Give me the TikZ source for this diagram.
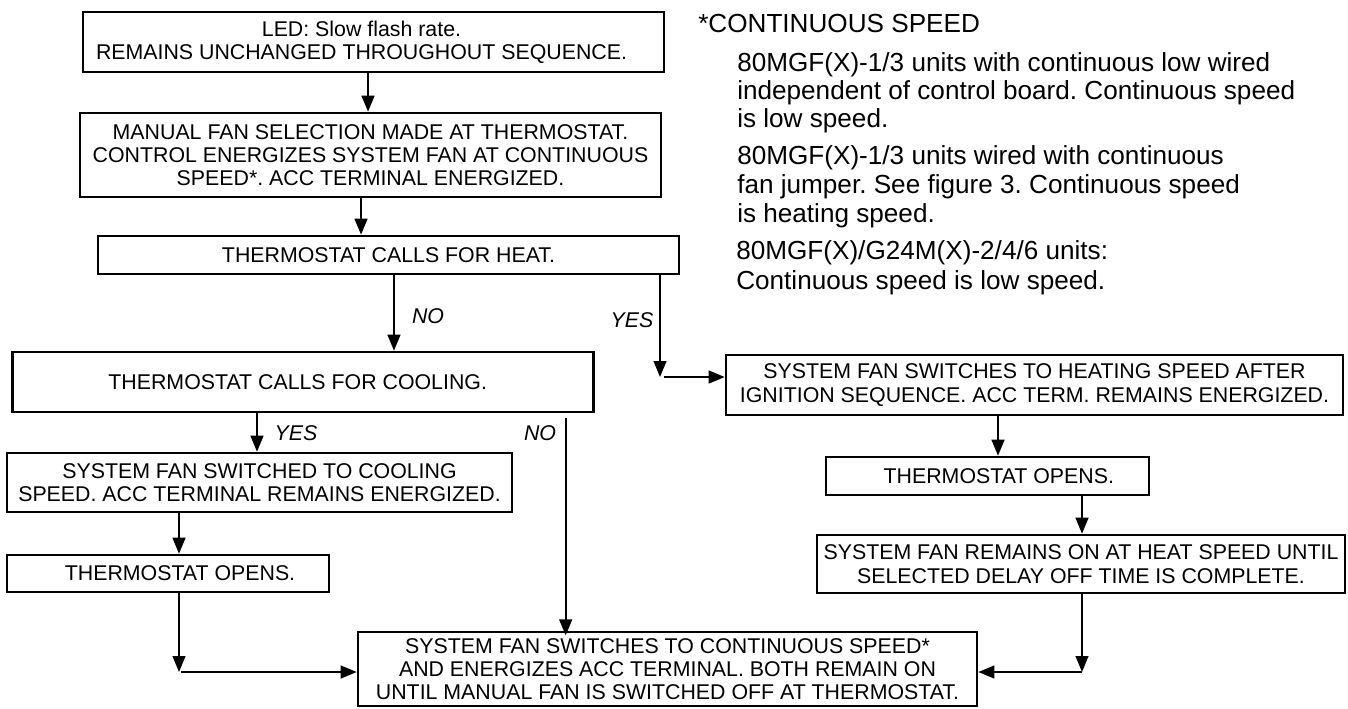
\documentclass[tikz,border=0pt]{standalone}
\usepackage{fontspec}
\setmainfont{Liberation Sans}
\usetikzlibrary{arrows.meta}
\frenchspacing
\begin{document}
\begin{tikzpicture}[x=0.75pt,y=-0.75pt,
 box/.style={draw,line width=1.9pt,inner sep=0pt,align=center,font=\fontsize{16}{17.5}\selectfont},
 arr/.style={line width=1.7pt,-{Triangle[length=12pt,width=9.5pt]}},
 lbl/.style={font=\fontsize{16}{18}\selectfont\itshape,inner sep=0pt},
 note/.style={anchor=base west,inner sep=0pt,font=\fontsize{19.6}{21}\selectfont}]
\useasboundingbox (0,0) rectangle (1348,708);

% boxes
\node[box,minimum width=581*0.75pt,minimum height=60*0.75pt] (led) at (373.5,42)
 {\hspace*{-18pt}LED: Slow flash rate.\\\hspace*{-18pt}REMAINS UNCHANGED THROUGHOUT SEQUENCE.};
\node[box,minimum width=581*0.75pt,minimum height=84*0.75pt] (manual) at (370.5,155)
 {MANUAL FAN SELECTION MADE AT THERMOSTAT.\\CONTROL ENERGIZES SYSTEM FAN AT CONTINUOUS\\SPEED*. ACC TERMINAL ENERGIZED.};
\node[box,minimum width=581*0.75pt,minimum height=38*0.75pt] (heat) at (388.5,255)
 {THERMOSTAT CALLS FOR HEAT.};
\node[box,minimum width=581*0.75pt,minimum height=60*0.75pt] (cool) at (303,382)
 {\hspace*{-8pt}THERMOSTAT CALLS FOR COOLING.};
\node[box,minimum width=505*0.75pt,minimum height=59*0.75pt] (coolfan) at (259.5,482.5)
 {SYSTEM FAN SWITCHED TO COOLING\\SPEED. ACC TERMINAL REMAINS ENERGIZED.};
\node[box,minimum width=322*0.75pt,minimum height=37*0.75pt] (lopen) at (168,573.5)
 {\hspace*{18pt}THERMOSTAT OPENS.};
\node[box,minimum width=617*0.75pt,minimum height=60*0.75pt] (heating) at (1034.5,385)
 {SYSTEM FAN SWITCHES TO HEATING SPEED AFTER\\IGNITION SEQUENCE. ACC TERM. REMAINS ENERGIZED.};
\node[box,minimum width=323*0.75pt,minimum height=38*0.75pt] (ropen) at (987.5,476)
 {\hspace*{17pt}THERMOSTAT OPENS.};
\node[box,minimum width=528*0.75pt,minimum height=58*0.75pt] (delay) at (1081,564)
 {SYSTEM FAN REMAINS ON AT HEAT SPEED UNTIL\\SELECTED DELAY OFF TIME IS COMPLETE.};
\node[box,minimum width=619*0.75pt,minimum height=74*0.75pt] (final) at (667.5,669)
 {SYSTEM FAN SWITCHES TO CONTINUOUS SPEED*\\AND ENERGIZES ACC TERMINAL. BOTH REMAIN ON\\UNTIL MANUAL FAN IS SWITCHED OFF AT THERMOSTAT.};

% corner coordinates
\coordinate (yesc) at (660,377);
\coordinate (lc) at (179,672);
\coordinate (rc) at (1082,672);

% connectors
\draw[arr] ([xshift=-4.1pt]led.south) -- ([xshift=-4.1pt]led.south |- manual.north);
\draw[arr] ([xshift=-7.1pt]manual.south) -- ([xshift=-7.1pt]manual.south |- heat.north);
\draw[arr] ([xshift=4.1pt]heat.south) -- ([xshift=4.1pt]heat.south |- cool.north);
\draw[arr] (heat.south -| yesc) -- (yesc);
\draw[arr] ([xshift=3pt]yesc) -- (heating.west |- yesc);
\draw[arr] ([xshift=-34.5pt]cool.south) -- ([xshift=-34.5pt]cool.south |- coolfan.north);
\draw[arr] ([xshift=197pt,yshift=-3.5pt]cool.south) -- ([xshift=197pt,yshift=-3.5pt]cool.south |- final.north);
\draw[arr] (coolfan.south -| lc) -- (lopen.north -| lc);
\draw[arr] (lopen.south -| lc) -- (lc);
\draw[arr] ([xshift=1.5pt]lc) -- (final.west |- lc);
\draw[arr] (heating.south -| 998,0) -- (ropen.north -| 998,0);
\draw[arr] (ropen.south -| rc) -- (delay.north -| rc);
\draw[arr] (delay.south -| rc) -- (rc);
\draw[arr] (rc) -- (final.east |- rc);

% labels
\node[lbl] (no1) at (428,316) {NO};
\node[lbl] (yes1) at (632,320) {YES};
\node[lbl] (yes2) at (296,433) {YES};
\node[lbl] (no2) at (540,433) {NO};

% notes
\node[note] (n0) at (698,32) {*CONTINUOUS SPEED};
\node[note] (n1) at (737,71) {80MGF(X)-1/3 units with continuous low wired};
\node[note] (n2) at (737,99) {independent of control board. Continuous speed};
\node[note] (n3) at (737,127) {is low speed.};
\node[note] (n4) at (737,164) {80MGF(X)-1/3 units wired with continuous};
\node[note] (n5) at (737,193) {fan jumper. See figure 3. Continuous speed};
\node[note] (n6) at (737,222) {is heating speed.};
\node[note] (n7) at (736,259) {80MGF(X)/G24M(X)-2/4/6 units:};
\node[note] (n8) at (736,289) {Continuous speed is low speed.};
\end{tikzpicture}
\end{document}
